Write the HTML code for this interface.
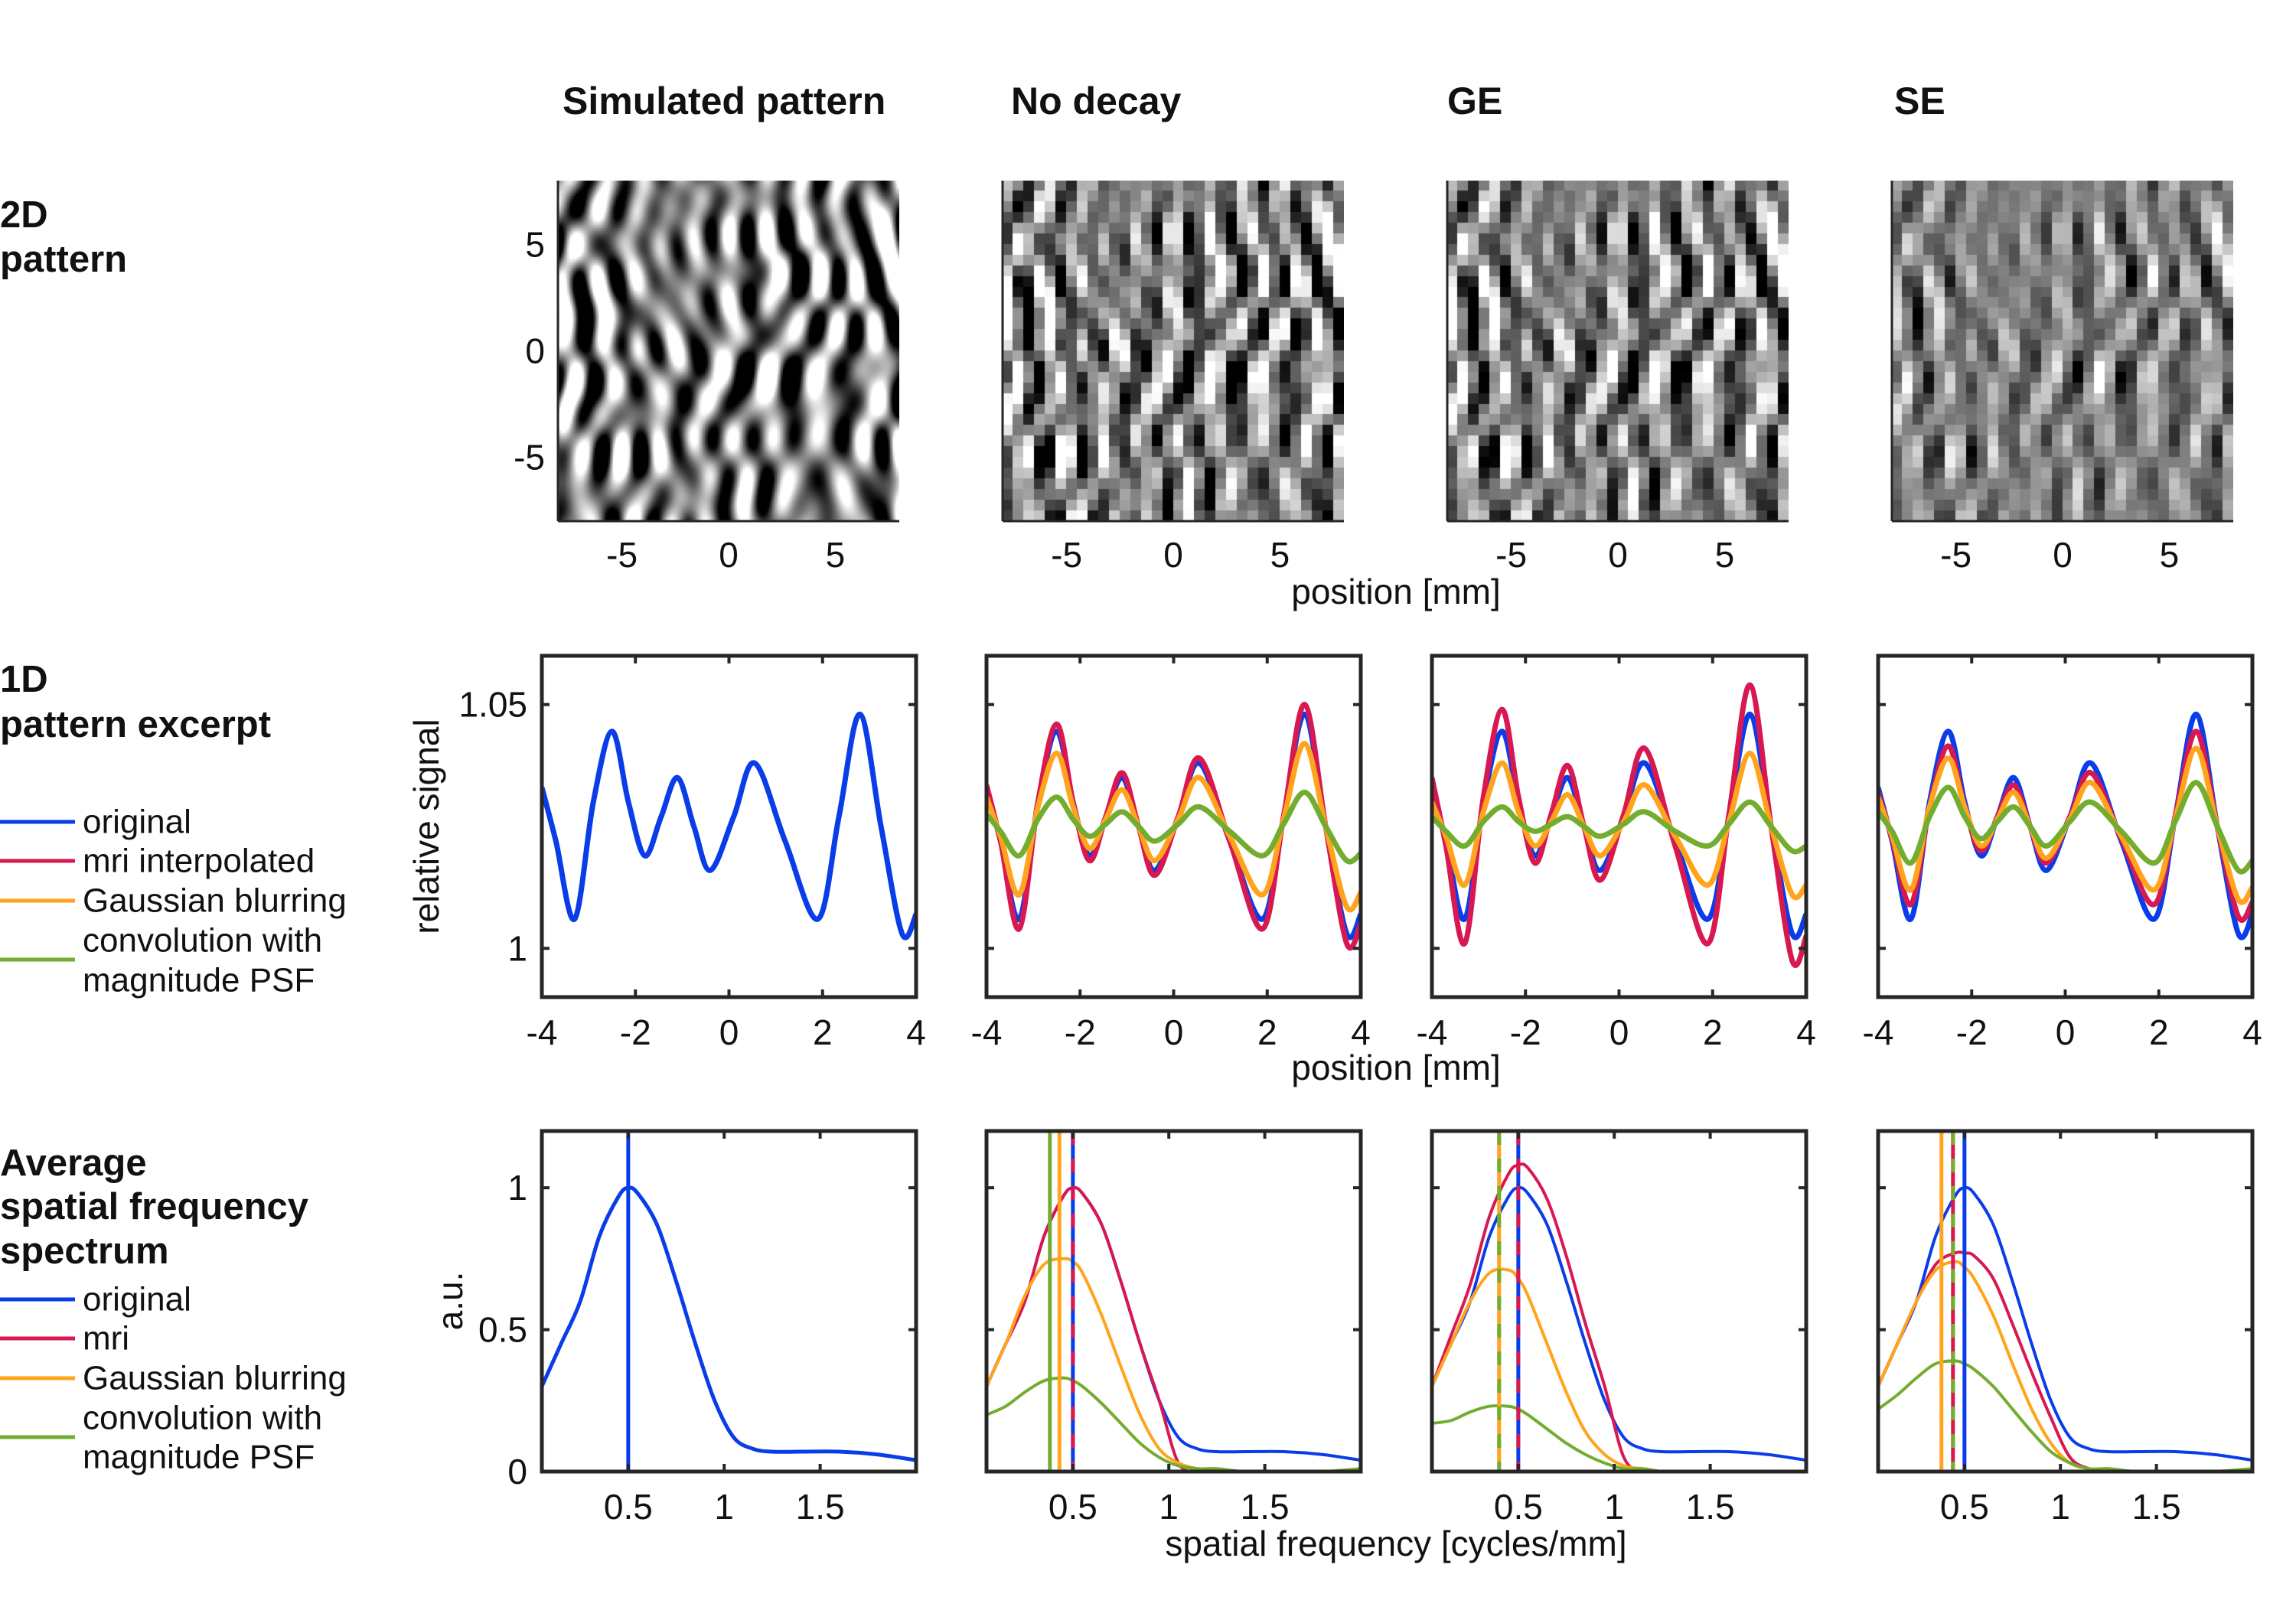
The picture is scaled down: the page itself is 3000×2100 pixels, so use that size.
<!DOCTYPE html>
<html><head><meta charset="utf-8">
<style>
html,body{margin:0;padding:0;background:#fff;}
#root{position:relative;width:3000px;height:2100px;overflow:hidden;font-family:"Liberation Sans",Arial,sans-serif;}
canvas{position:absolute;}
svg{position:absolute;left:0;top:0;}
</style></head>
<body>
<div id="root">
<canvas id="img0" width="446" height="445" style="left:729px;top:236px"></canvas>
<canvas id="img1" width="446" height="445" style="left:1310px;top:236px"></canvas>
<canvas id="img2" width="446" height="445" style="left:1891px;top:236px"></canvas>
<canvas id="img3" width="446" height="445" style="left:2472px;top:236px"></canvas>
<svg id="chart" width="3000" height="2100"></svg>
</div>
<script>
// ---- data ----
const posX = [-4,-3.7,-3.3,-2.9,-2.5,-2.15,-1.8,-1.45,-1.1,-0.75,-0.4,0.1,0.55,1.2,1.9,2.35,2.8,3.25,3.7,4];
const sigOrig = [1.033,1.022,1.006,1.030,1.0445,1.030,1.019,1.027,1.035,1.025,1.016,1.027,1.038,1.022,1.006,1.027,1.048,1.025,1.003,1.007];
const sigNdMri = [1.0335,1.022,1.004,1.030,1.046,1.030,1.018,1.027,1.036,1.025,1.015,1.027,1.039,1.022,1.004,1.027,1.050,1.025,1.001,1.005];
const sigNdGauss = [1.031,1.023,1.011,1.029,1.040,1.029,1.0205,1.0265,1.0325,1.025,1.018,1.0265,1.035,1.023,1.011,1.0265,1.042,1.025,1.0085,1.0115];
const sigNdPsf = [1.0275,1.024,1.019,1.0265,1.031,1.0265,1.023,1.0255,1.028,1.025,1.022,1.0255,1.029,1.024,1.019,1.0255,1.032,1.025,1.018,1.0195];
const sigGeMri = [1.035,1.021,1.001,1.031,1.049,1.031,1.0175,1.0275,1.0375,1.025,1.014,1.0275,1.041,1.021,1.001,1.0275,1.054,1.025,0.9975,1.0025];
const sigGeGauss = [1.030,1.023,1.013,1.028,1.038,1.028,1.021,1.026,1.0315,1.025,1.019,1.026,1.0335,1.023,1.013,1.026,1.040,1.025,1.011,1.013];
const sigGePsf = [1.027,1.024,1.021,1.026,1.029,1.026,1.024,1.0255,1.027,1.025,1.023,1.0255,1.028,1.024,1.021,1.0255,1.030,1.025,1.020,1.021];
const sigSeMri = [1.032,1.0225,1.009,1.029,1.0415,1.029,1.020,1.027,1.0335,1.025,1.0175,1.027,1.036,1.0225,1.009,1.027,1.0445,1.025,1.0065,1.0095];
const sigSeGauss = [1.031,1.023,1.012,1.029,1.039,1.029,1.021,1.0265,1.032,1.025,1.0185,1.0265,1.034,1.023,1.012,1.0265,1.041,1.025,1.010,1.0125];
const sigSePsf = [1.028,1.024,1.0175,1.027,1.033,1.027,1.0225,1.026,1.029,1.025,1.021,1.026,1.030,1.024,1.0175,1.026,1.034,1.025,1.016,1.018];

const freqX = [0.05,0.15,0.25,0.35,0.45,0.5,0.55,0.65,0.75,0.85,0.95,1.05,1.15,1.25,1.4,1.6,1.8,2.0];
const specOrig = [0.3,0.45,0.6,0.83,0.97,1.0,0.98,0.87,0.67,0.45,0.25,0.12,0.08,0.07,0.07,0.07,0.06,0.04];
const specNdMri = [0.3,0.45,0.6,0.83,0.97,1.0,0.98,0.87,0.67,0.45,0.25,0.03,0,0,0,0,0,0];
const specNdGauss = [0.3,0.45,0.62,0.73,0.75,0.74,0.7,0.55,0.37,0.2,0.08,0.03,0.01,0,0,0,0,0];
const specNdPsf = [0.2,0.23,0.28,0.32,0.33,0.32,0.3,0.24,0.17,0.1,0.05,0.02,0.01,0.01,0,0,0,0.01];
const specGeMri = [0.3,0.48,0.66,0.9,1.05,1.08,1.07,0.96,0.76,0.52,0.3,0.05,0,0,0,0,0,0];
const specGeGauss = [0.3,0.45,0.6,0.7,0.71,0.68,0.62,0.45,0.28,0.14,0.06,0.02,0.01,0,0,0,0,0];
const specGePsf = [0.17,0.18,0.21,0.23,0.23,0.22,0.2,0.15,0.1,0.06,0.03,0.01,0.01,0,0,0,0,0];
const specSeMri = [0.3,0.45,0.6,0.73,0.77,0.77,0.76,0.68,0.52,0.35,0.19,0.05,0.01,0,0,0,0,0];
const specSeGauss = [0.3,0.45,0.6,0.71,0.74,0.72,0.68,0.55,0.38,0.22,0.1,0.03,0.01,0,0,0,0,0];
const specSePsf = [0.22,0.27,0.33,0.38,0.39,0.38,0.36,0.3,0.22,0.14,0.07,0.03,0.01,0.01,0,0,0,0.01];

const peakNd = [0.5,0.5,0.43,0.38];   // orig, mri, gauss, psf
const peakGe = [0.5,0.5,0.40,0.40];
const peakSe = [0.5,0.44,0.38,0.44];

const posTicks = [-4,-2,0,2,4];
const sigTicks = [1,1.05];
const sigTickLabels = ["1","1.05"];
const freqTicks = [0.5,1,1.5];
const specTicks = [0,0.5,1];
const imgTicks = [-5,0,5];

// ---- layout ----
const NS="http://www.w3.org/2000/svg";
const svg=document.getElementById('chart');
const C={blue:'#0a3de8',red:'#d81850',orange:'#ffa41c',green:'#73ad2f',ax:'#262626'};
const colL=[708,1289,1871,2454], W=489;
function el(tag,attrs,parent){const e=document.createElementNS(NS,tag);for(const k in attrs)e.setAttribute(k,attrs[k]);(parent||svg).appendChild(e);return e;}
function txt(s,x,y,size,opts){opts=opts||{};const t=el('text',{x:x,y:y,'font-size':size,'font-family':'Liberation Sans, Arial, sans-serif',fill:opts.fill||'#111','text-anchor':opts.anchor||'start','dominant-baseline':'central','font-weight':opts.bold?'bold':'normal'});if(opts.rot)t.setAttribute('transform','rotate(-90 '+x+' '+y+')');t.textContent=s;return t;}
function spline(pts){let d='M'+pts[0][0]+','+pts[0][1];for(let i=0;i<pts.length-1;i++){const p0=pts[Math.max(0,i-1)],p1=pts[i],p2=pts[i+1],p3=pts[Math.min(pts.length-1,i+2)];const c1x=p1[0]+(p2[0]-p0[0])/6,c1y=p1[1]+(p2[1]-p0[1])/6,c2x=p2[0]-(p3[0]-p1[0])/6,c2y=p2[1]-(p3[1]-p1[1])/6;d+=' C'+c1x+','+c1y+' '+c2x+','+c2y+' '+p2[0]+','+p2[1];}return d;}

function axesBox(g,x0,y0,w,h,xs,xt,ys,yt){
  el('rect',{x:x0,y:y0,width:w,height:h,fill:'none',stroke:C.ax,'stroke-width':5},g);
  xt.forEach(v=>{const x=xs(v);el('line',{x1:x,x2:x,y1:y0+h,y2:y0+h-10,stroke:C.ax,'stroke-width':4},g);el('line',{x1:x,x2:x,y1:y0,y2:y0+10,stroke:C.ax,'stroke-width':4},g);});
  yt.forEach(v=>{const y=ys(v);el('line',{x1:x0,x2:x0+10,y1:y,y2:y,stroke:C.ax,'stroke-width':4},g);el('line',{x1:x0+w,x2:x0+w-10,y1:y,y2:y,stroke:C.ax,'stroke-width':4},g);});
}

// column titles
const titles=['Simulated pattern','No decay','GE','SE'];
[735,1321,1891,2475].forEach((x,i)=>{const t=txt(titles[i],x,132,50,{bold:true});});
// row labels
[['2D',281],['pattern',339],['1D',888],['pattern excerpt',947],['Average',1520],['spatial frequency',1577],['spectrum',1635]].forEach(r=>{const t=txt(r[0],0,r[1],49,{bold:true});});
// legends
function legend(items){items.forEach(it=>{const g=el('g',{});if(it.c)el('line',{x1:0,x2:98,y1:it.ly,y2:it.ly,stroke:it.c,'stroke-width':5},g);txt(it.t,108,it.ty,44);g.appendChild(svg.lastChild);});}
legend([{c:C.blue,ly:1074,t:'original',ty:1074},{c:C.red,ly:1125,t:'mri interpolated',ty:1125},{c:C.orange,ly:1177,t:'Gaussian blurring',ty:1177},{c:C.green,ly:1254,t:'convolution with',ty:1229},{c:null,t:'magnitude PSF',ty:1281}]);
legend([{c:C.blue,ly:1698,t:'original',ty:1698},{c:C.red,ly:1749,t:'mri',ty:1749},{c:C.orange,ly:1801,t:'Gaussian blurring',ty:1801},{c:C.green,ly:1878,t:'convolution with',ty:1853},{c:null,t:'magnitude PSF',ty:1904}]);

// ---- row 1 images axis ----
const imgTop=236,imgH=445,imgW=446,imgL=[729,1310,1891,2472];
imgL.forEach((x0,i)=>{
  const g=el('g',{});
  const xs=v=>x0+(v+8)/16*imgW, ys=v=>imgTop+(8-v)/16*imgH;
  el('line',{x1:x0,x2:x0+imgW,y1:imgTop+imgH,y2:imgTop+imgH,stroke:C.ax,'stroke-width':3},g);
  el('line',{x1:x0,x2:x0,y1:imgTop,y2:imgTop+imgH,stroke:C.ax,'stroke-width':3},g);
  imgTicks.forEach(v=>{txt(String(v),xs(v),725,46,{anchor:'middle'});g.appendChild(svg.lastChild);});
  if(i===0)imgTicks.forEach(v=>{txt(String(v),712,ys(v),46,{anchor:'end'});g.appendChild(svg.lastChild);});
});
txt('position [mm]',1824,773,46,{anchor:'middle'});

// ---- row 2 ----
const r2Top=857,r2H=446;
const sigSets=[[sigOrig],[sigOrig,sigNdMri,sigNdGauss,sigNdPsf],[sigOrig,sigGeMri,sigGeGauss,sigGePsf],[sigOrig,sigSeMri,sigSeGauss,sigSePsf]];
const cols=[C.blue,C.red,C.orange,C.green];
colL.forEach((x0,i)=>{
  const g=el('g',{});
  const xs=v=>x0+(v+4)/8*W, ys=v=>r2Top+(1.06-v)/0.07*r2H;
  const cp=el('clipPath',{id:'cp2'+i},g);el('rect',{x:x0,y:r2Top,width:W,height:r2H},cp);
  sigSets[i].forEach((s,k)=>{const p=el('path',{d:spline(posX.map((x,j)=>[xs(x),ys(s[j])])),fill:'none',stroke:cols[k],'stroke-width':7,'clip-path':'url(#cp2'+i+')'},g);
    
    });
  axesBox(g,x0,r2Top,W,r2H,xs,posTicks,ys,sigTicks);
  posTicks.forEach(v=>{txt(String(v),xs(v),1349,46,{anchor:'middle'});g.appendChild(svg.lastChild);});
  if(i===0)sigTicks.forEach((v,k)=>{txt(sigTickLabels[k],689,ys(v),46,{anchor:'end'});g.appendChild(svg.lastChild);});
});
txt('relative signal',557,1080,46,{anchor:'middle',rot:true});
txt('position [mm]',1824,1395,46,{anchor:'middle'});

// ---- row 3 ----
const r3Top=1478,r3H=445;
const specSets=[[specOrig],[specOrig,specNdMri,specNdGauss,specNdPsf],[specOrig,specGeMri,specGeGauss,specGePsf],[specOrig,specSeMri,specSeGauss,specSePsf]];
const peakSets=[[0.5],peakNd,peakGe,peakSe];
colL.forEach((x0,i)=>{
  const g=el('g',{});
  const xs=v=>x0+(v-0.05)/1.95*W, ys=v=>r3Top+(1.2-v)/1.2*r3H;
  const cp=el('clipPath',{id:'cp3'+i},g);el('rect',{x:x0,y:r3Top,width:W,height:r3H},cp);
  specSets[i].forEach((s,k)=>{const p=el('path',{d:spline(freqX.map((x,j)=>[xs(x),ys(s[j])])),fill:'none',stroke:cols[k],'stroke-width':k===0&&i===0?5:4,'clip-path':'url(#cp3'+i+')'},g);
    
    });
  const pk=peakSets[i];
  pk.forEach((v,k)=>{let dup=false;for(let m=0;m<k;m++)if(Math.abs(pk[m]-v)<1e-6)dup=true;
    const ln=el('line',{x1:xs(v),x2:xs(v),y1:r3Top,y2:r3Top+r3H,stroke:cols[k],'stroke-width':5},g);
    
    
    if(dup)ln.setAttribute('stroke-dasharray','18 18');});
  axesBox(g,x0,r3Top,W,r3H,xs,freqTicks,ys,specTicks);
  freqTicks.forEach(v=>{txt(String(v),xs(v),1969,46,{anchor:'middle'});g.appendChild(svg.lastChild);});
  if(i===0)specTicks.forEach(v=>{txt(String(v),689,ys(v),46,{anchor:'end'});g.appendChild(svg.lastChild);});
});
txt('a.u.',588,1700,46,{anchor:'middle',rot:true});
txt('spatial frequency [cycles/mm]',1824,2017,46,{anchor:'middle'});

// ---- images (texture) ----
let seed=4242;function rnd(){seed=(seed*1103515245+12345)&0x7fffffff;return seed/0x7fffffff;}
const waves=[];for(let k=0;k<90;k++){const f=0.38+rnd()*0.3;const a=(rnd()-0.5)*1.15;waves.push({kx:f*Math.cos(a)*2*Math.PI,ky:f*Math.sin(a)*2*Math.PI,ph:rnd()*6.283});}
function field(x,y){let s=0;for(const w of waves)s+=Math.cos(w.kx*x+w.ky*y+w.ph);return s/Math.sqrt(waves.length/2);}
function drawSmooth(id){const c=document.getElementById(id),ctx=c.getContext('2d'),im=ctx.createImageData(c.width,c.height);
  for(let py=0;py<c.height;py+=2)for(let px=0;px<c.width;px+=2){const x=px/c.width*16-8,y=8-py/c.height*16;let v=field(x,y);v=Math.max(0,Math.min(255,128+v*120));
    for(let dy=0;dy<2;dy++)for(let dx=0;dx<2;dx++){const i=((py+dy)*c.width+px+dx)*4;if(py+dy<c.height&&px+dx<c.width){im.data[i]=im.data[i+1]=im.data[i+2]=v;im.data[i+3]=255;}}}
  ctx.putImageData(im,0,0);}
function drawPix(id,contrast,blur){const c=document.getElementById(id),ctx=c.getContext('2d');const N=32;
  for(let j=0;j<N;j++)for(let i=0;i<N;i++){const x=(i+0.5)/N*16-8,y=8-(j+0.5)/N*16;let v=field(x,y)*blur+(field(x+0.25,y)+field(x-0.25,y))*(1-blur)/2;v=Math.max(0,Math.min(255,128+v*contrast));
    ctx.fillStyle='rgb('+v+','+v+','+v+')';ctx.fillRect(Math.floor(i*c.width/N),Math.floor(j*c.height/N),Math.ceil(c.width/N)+1,Math.ceil(c.height/N)+1);}}
drawSmooth('img0');drawPix('img1',95,1);drawPix('img2',90,0.8);drawPix('img3',60,0.6);
</script>
</body></html>
